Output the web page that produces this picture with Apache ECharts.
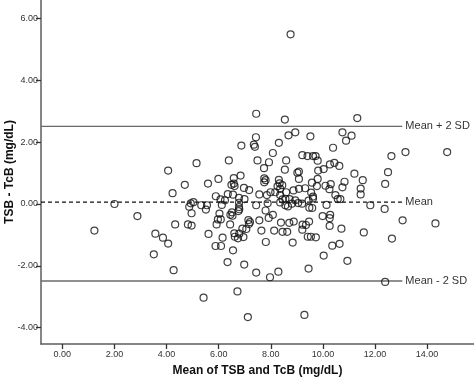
<!DOCTYPE html>
<html>
<head>
<meta charset="utf-8">
<script src="https://cdn.jsdelivr.net/npm/echarts@6/dist/echarts.min.js"></script>
<style>html,body{margin:0;padding:0;background:#fff}#c{width:474px;height:378px}</style>
</head>
<body>
<div id="c"></div>
<script>
// Mean of TSB and TcB (mg/dL), and TSB - TcB (mg/dL)
const points = [
[1.23,-0.86],[2.00,0.00],[2.88,-0.39],[3.57,-0.96],[3.51,-1.63],[3.86,-1.09],[4.06,-1.28],[4.27,-2.14],[4.06,1.08],[5.15,1.32],
[4.70,0.62],[5.59,0.66],[5.99,0.81],[4.23,0.35],[4.33,-0.66],[4.82,-0.66],[4.96,-0.70],[4.93,0.02],[5.03,0.06],[4.87,-0.09],
[4.96,-0.30],[5.33,-0.04],[5.55,-0.04],[5.51,-0.18],[5.61,-0.97],[5.88,-1.36],[6.09,-1.36],[6.15,-1.09],[6.34,-1.88],[6.55,-1.50],
[5.42,-3.03],[6.72,-2.83],[7.12,-3.66],[9.29,-3.59],[6.98,-1.96],[7.44,-2.22],[7.97,-2.37],[8.29,-2.19],[9.45,-2.09],[12.39,-2.52],
[8.76,5.49],[7.44,2.92],[8.54,2.73],[11.32,2.78],[7.43,2.16],[8.68,2.22],[8.94,2.32],[9.52,2.19],[10.75,2.32],[10.89,2.05],
[11.10,2.21],[6.87,1.89],[7.35,1.92],[7.39,1.85],[8.31,1.98],[10.39,1.82],[8.08,1.65],[9.21,1.58],[9.41,1.55],[9.62,1.55],
[9.72,1.55],[9.80,1.40],[12.63,1.55],[13.17,1.68],[14.77,1.68],[6.39,1.41],[7.49,1.41],[8.59,1.41],[7.93,1.35],[7.74,1.16],
[8.54,1.11],[9.02,1.01],[9.08,1.05],[9.82,1.08],[10.03,1.13],[10.27,1.28],[10.44,1.33],[10.63,1.23],[12.50,1.03],[11.21,0.98],
[9.08,0.81],[9.80,0.81],[9.58,0.69],[10.10,0.59],[10.83,0.72],[10.75,0.54],[11.53,0.77],[11.45,0.50],[11.45,0.31],[12.39,0.65],
[9.77,0.58],[10.30,0.64],[10.25,0.48],[9.55,0.37],[9.62,0.18],[9.59,-0.13],[10.48,0.29],[10.57,0.16],[10.67,0.16],[10.14,-0.03],
[11.82,-0.04],[12.37,-0.16],[9.99,-0.39],[10.28,-0.35],[10.26,-0.46],[10.26,-0.71],[10.71,-0.80],[9.73,-1.08],[9.54,-1.06],[13.06,-0.53],
[14.32,-0.63],[11.57,-0.92],[12.65,-1.12],[10.36,-1.35],[10.64,-1.29],[10.03,-1.67],[10.94,-1.84],
[6.58,0.84],[6.84,0.92],[6.49,0.62],[6.58,0.66],[6.61,0.58],[6.97,0.52],[7.17,0.45],[7.75,0.83],[7.80,0.77],[7.75,0.70],
[8.31,0.78],[8.34,0.67],[8.26,0.57],[8.44,0.61],[8.36,0.49],[8.59,0.38],[8.87,0.44],[9.08,0.49],[9.32,0.51],
[5.89,0.25],[6.07,0.15],[6.24,0.12],[6.35,0.32],[6.55,0.30],[6.78,0.20],[6.78,0.04],[6.78,-0.10],[6.79,-0.17],[6.99,0.16],
[6.12,-0.03],[6.03,-0.31],[5.97,-0.50],[6.08,-0.50],[5.92,-0.66],[6.45,-0.35],[6.53,-0.38],[6.44,-0.66],[6.51,-0.27],[6.76,-0.23],
[7.56,0.31],[7.85,0.29],[7.99,0.38],[7.88,0.02],[7.80,-0.21],[7.44,-0.04],[8.17,0.38],[8.36,0.29],[8.36,0.05],[8.45,0.15],
[8.56,0.17],[8.56,-0.04],[8.66,-0.08],[8.72,0.16],[8.81,0.01],[8.94,0.12],[9.05,0.03],[9.20,0.01],[9.45,0.11],[9.48,-0.12],
[9.62,0.24],[8.08,-0.35],[7.92,-0.45],[7.56,-0.53],[7.14,-0.52],[7.20,-0.59],[7.16,-0.65],[7.06,-0.81],[6.91,-0.80],[6.60,-0.95],
[6.62,-1.06],[6.79,-0.96],[6.74,-1.11],[6.95,-1.07],[7.64,-0.86],[8.13,-0.86],[8.39,-0.60],[8.45,-0.90],[8.63,-0.90],[8.71,-0.61],
[8.88,-0.57],[9.22,-0.67],[9.35,-0.68],[9.47,-0.57],[9.21,-0.83],[9.42,-1.06],[7.81,-1.23],[8.84,-1.25]
];
const refLabels = ['Mean + 2 SD', 'Mean', 'Mean - 2 SD'];
const refValues = [2.51, 0.06, -2.49];
const refLineX = [-0.82, 13.05];
const xTicks = [0, 2, 4, 6, 8, 10, 12, 14];
const yTicks = [-4, -2, 0, 2, 4, 6];

const chart = echarts.init(document.getElementById('c'), null, {renderer: 'canvas'});
const axisCommon = {
  type: 'value',
  splitLine: {show: false},
  axisLine: {show: true, onZero: false, lineStyle: {color: '#5e5e5e', width: 1.5}},
  nameLocation: 'middle',
  nameMoveOverlap: false,
  nameTextStyle: {fontFamily: 'Liberation Sans, Arial', fontWeight: 'bold', fontSize: 12, color: '#111'}
};
const refSeries = refLabels.map((lab, i) => ({
  type: 'line',
  name: lab,
  data: refLineX.map(x => [x, refValues[i]]),
  showSymbol: false,
  symbol: 'none',
  silent: true,
  clip: false,
  z: 1,
  lineStyle: i === 1 ? {color: '#111', width: 1.3, type: [4, 3]} : {color: '#6a6a6a', width: 1.4},
  endLabel: {show: true, formatter: lab, distance: 3, fontFamily: 'Liberation Sans, Arial', fontSize: 11, color: '#333'}
}));
chart.setOption({
  animation: false,
  grid: {left: 41, right: 0, top: 0, bottom: 34, containLabel: false, outerBoundsMode: 'none'},
  xAxis: Object.assign({}, axisCommon, {
    min: -0.82, max: 15.8,
    name: 'Mean of TSB and TcB (mg/dL)', nameGap: 21,
    axisTick: {show: true, customValues: xTicks, length: 5, lineStyle: {color: '#333', width: 1.3}},
    axisLabel: {customValues: xTicks, formatter: v => v.toFixed(2), fontFamily: 'Liberation Sans, Arial', fontSize: 9, color: '#333', margin: 6}
  }),
  yAxis: Object.assign({}, axisCommon, {
    min: -4.53, max: 6.6,
    name: 'TSB - TcB (mg/dL)', nameGap: 25,
    axisTick: {show: true, customValues: yTicks, length: 5, lineStyle: {color: '#333', width: 1.3}},
    axisLabel: {customValues: yTicks, formatter: v => v.toFixed(2), fontFamily: 'Liberation Sans, Arial', fontSize: 9, color: '#333', margin: 3}
  }),
  series: refSeries.concat([{
    type: 'scatter',
    data: points,
    symbol: 'circle',
    symbolSize: 7,
    z: 3,
    itemStyle: {color: 'rgba(255,255,255,0)', borderColor: '#111', borderWidth: 1.2}
  }])
});
</script>
</body>
</html>
